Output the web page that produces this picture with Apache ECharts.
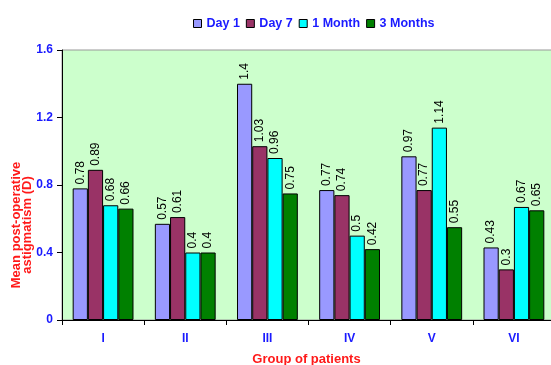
<!DOCTYPE html>
<html>
<head>
<meta charset="utf-8">
<script src="https://cdn.jsdelivr.net/npm/echarts@6/dist/echarts.min.js"></script>
<style>
  html, body { margin: 0; padding: 0; background: #ffffff; }
  #chart { width: 551px; height: 365px; }
</style>
</head>
<body>
<div id="chart"></div>
<script>
// Patient groups along the x axis
const groups = ['I', 'II', 'III', 'IV', 'V', 'VI'];

// Mean post-operative astigmatism (D) per follow-up visit
const day1 = [0.78, 0.57, 1.4, 0.77, 0.97, 0.43];
const day7 = [0.89, 0.61, 1.03, 0.74, 0.77, 0.3];
const month1 = [0.68, 0.4, 0.96, 0.5, 1.14, 0.67];
const months3 = [0.66, 0.4, 0.75, 0.42, 0.55, 0.65];

// Y axis ticks
const yTicks = [0, 0.4, 0.8, 1.2, 1.6];

const seriesDefs = [
  { name: 'Day 1', data: day1, color: '#9999FF' },
  { name: 'Day 7', data: day7, color: '#993366' },
  { name: '1 Month', data: month1, color: '#00FFFF' },
  { name: '3 Months', data: months3, color: '#008000' }
];

const blue = '#1a1aff';
const red = '#ff1a1a';

const chart = echarts.init(document.getElementById('chart'));
chart.setOption({
  animation: false,
  backgroundColor: '#ffffff',
  textStyle: { fontFamily: 'Liberation Sans, Arial, sans-serif' },
  legend: {
    top: 12,
    left: 188,
    itemWidth: 8,
    itemHeight: 8,
    itemGap: 6,
    icon: 'rect',
    textStyle: { color: blue, fontWeight: 'bold', fontSize: 12.5, padding: [0, 0, 0, 0] },
    data: seriesDefs.map(s => ({ name: s.name, itemStyle: { borderColor: '#000', borderWidth: 1 } }))
  },
  grid: {
    left: 62,
    top: 50,
    bottom: 45,
    width: 493,
    outerBoundsMode: 'none',
    containLabel: false,
    show: true,
    backgroundColor: '#CCFFCC',
    borderColor: '#999999',
    borderWidth: 1
  },
  xAxis: {
    type: 'category',
    data: groups,
    axisLine: { lineStyle: { color: '#000', width: 1 } },
    axisTick: { show: true, length: 5, lineStyle: { color: '#000' } },
    axisLabel: { color: blue, fontWeight: 'bold', fontSize: 12, margin: 13 },
    name: 'Group of patients',
    nameLocation: 'middle',
    nameGap: 33,
    nameTextStyle: { color: red, fontWeight: 'bold', fontSize: 13, padding: [0, 0, 0, -4] }
  },
  yAxis: {
    type: 'value',
    min: yTicks[0],
    max: yTicks[yTicks.length - 1],
    interval: 0.4,
    axisLine: { show: true, lineStyle: { color: '#000', width: 1 } },
    axisTick: { show: true, length: 5, lineStyle: { color: '#000' } },
    splitLine: { show: false },
    axisLabel: {
      color: blue, fontWeight: 'bold', fontSize: 12, margin: 9,
      formatter: v => String(Math.round(v * 10) / 10)
    }
  },
  graphic: [{
    type: 'text',
    x: 22,
    y: 225,
    rotation: Math.PI / 2,
    style: {
      text: 'Mean post-operative\nastigmatism (D)',
      fill: red,
      font: 'bold 13px Liberation Sans, Arial, sans-serif',
      textAlign: 'center',
      textVerticalAlign: 'middle',
      lineHeight: 11
    }
  }],
  series: seriesDefs.map(s => ({
    name: s.name,
    type: 'bar',
    data: s.data,
    barGap: '0%',
    barCategoryGap: '26%',
    itemStyle: { color: s.color, borderColor: '#000', borderWidth: 1 },
    label: {
      show: true,
      position: 'top',
      rotate: 90,
      align: 'left',
      verticalAlign: 'middle',
      distance: 4,
      color: '#000',
      fontSize: 12,
      formatter: p => String(p.value)
    }
  }))
});
</script>
</body>
</html>
